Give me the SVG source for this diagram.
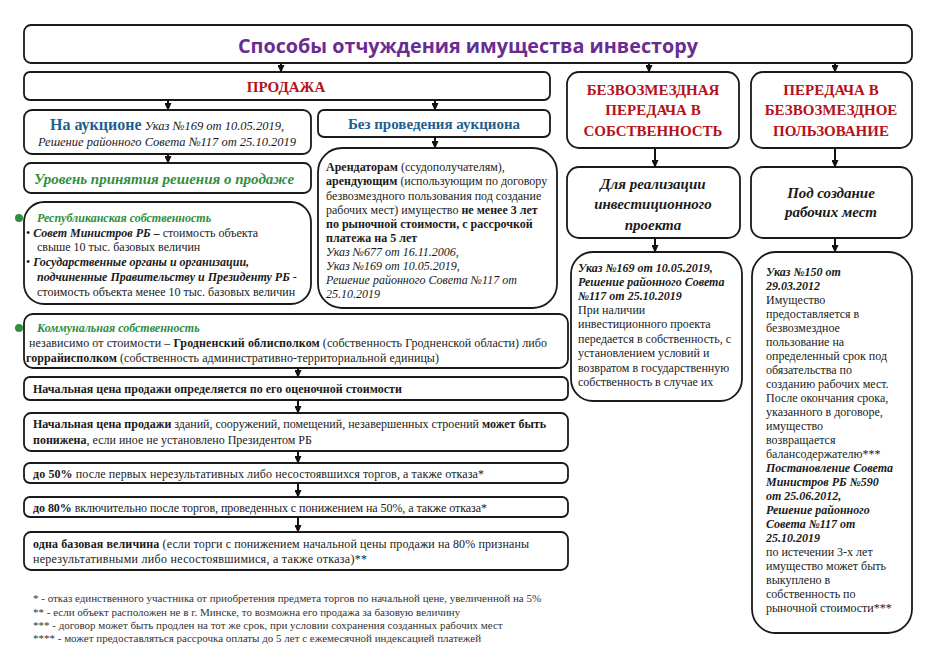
<svg xmlns="http://www.w3.org/2000/svg" width="930" height="658" viewBox="0 0 930 658">
<defs>
<marker id="ah" markerWidth="8" markerHeight="7" refX="7" refY="3.5" orient="auto" markerUnits="userSpaceOnUse">
<path d="M0,0 L8,3.5 L0,7 Z" fill="#111"/>
</marker>
<style>
.box{fill:#fff;stroke:#1a1a1a;stroke-width:1.8}
.t{font-family:"Liberation Serif","Times New Roman",serif;fill:#1a1a1a}
.s12{font-size:12px}
.s11{font-size:11px}
.b{font-weight:bold}
.i{font-style:italic}
.red{fill:#b5121b;font-weight:bold;font-size:15px}
.blue{fill:#1f5f8f;font-weight:bold}
.green{fill:#2f8f3f;font-weight:bold;font-style:italic}
.conn line{stroke:#111;stroke-width:2;marker-end:url(#ah)}
.foot{font-size:11px;fill:#333}
</style>
</defs>
<rect width="930" height="658" fill="#fff"/>

<g id="title">
<rect class="box" x="24" y="25" width="888" height="38" rx="7"/>
<text x="468" y="53" text-anchor="middle" style="font-family:'Open Sans','Noto Sans',sans-serif;font-weight:bold;font-size:20px;fill:#6a2c91" textLength="460" lengthAdjust="spacingAndGlyphs">Способы отчуждения имущества инвестору</text>
</g>

<g id="prodazha">
<rect class="box" x="24" y="72" width="526" height="28" rx="6"/>
<text class="t red" x="286" y="92" text-anchor="middle">ПРОДАЖА</text>
</g>

<g id="bezvozm-sobst">
<rect class="box" x="567" y="72" width="172" height="76" rx="12"/>
<text class="t red" x="653" y="95" text-anchor="middle">БЕЗВОЗМЕЗДНАЯ</text>
<text class="t red" x="653" y="115" text-anchor="middle">ПЕРЕДАЧА В</text>
<text class="t red" x="653" y="136" text-anchor="middle">СОБСТВЕННОСТЬ</text>
</g>

<g id="bezvozm-polz">
<rect class="box" x="751" y="72" width="161" height="76" rx="12"/>
<text class="t red" x="831" y="95" text-anchor="middle">ПЕРЕДАЧА В</text>
<text class="t red" x="831" y="115" text-anchor="middle">БЕЗВОЗМЕЗДНОЕ</text>
<text class="t red" x="831" y="136" text-anchor="middle">ПОЛЬЗОВАНИЕ</text>
</g>

<g id="auction">
<rect class="box" x="24" y="110" width="287" height="44" rx="8"/>
<text class="t" x="167" y="130" text-anchor="middle"><tspan class="blue" style="font-size:16px">На аукционе</tspan><tspan class="i" style="font-size:12.5px"> Указ №169 от 10.05.2019,</tspan></text>
<text class="t i" x="167" y="146" text-anchor="middle" style="font-size:12.5px">Решение районного Совета №117 от 25.10.2019</text>
</g>

<g id="no-auction">
<rect class="box" x="318" y="110" width="232" height="27" rx="6"/>
<text class="t blue" x="434" y="129" text-anchor="middle" style="font-size:15px">Без проведения аукциона</text>
</g>

<g id="level">
<rect class="box" x="24" y="163" width="287" height="30" rx="7"/>
<text class="t green" x="164" y="184" text-anchor="middle" style="font-size:15px">Уровень принятия решения о продаже</text>
</g>

<g id="republic">
<rect class="box" x="24" y="202" width="287" height="102" rx="20"/>
<circle cx="19" cy="218" r="4" fill="#2f8f3f"/>
<text class="t green s12" x="37" y="222">Республиканская собственность</text>
<text class="t s12" x="26" y="237">• <tspan class="b i">Совет Министров РБ –</tspan> стоимость объекта</text>
<text class="t s12" x="37" y="251">свыше 10 тыс. базовых величин</text>
<text class="t s12" x="26" y="266">• <tspan class="b i">Государственные органы и организации,</tspan></text>
<text class="t s12 b i" x="37" y="281">подчиненные  Правительству и Президенту РБ <tspan style="font-weight:normal;font-style:normal">-</tspan></text>
<text class="t s12" x="37" y="296">стоимость объекта менее 10 тыс. базовых величин</text>
</g>

<g id="arendatoram">
<rect class="box" x="318" y="148" width="239" height="160" rx="24"/>
<text class="t s12" x="326" y="171"><tspan class="b">Арендаторам</tspan> (ссудополучателям),</text>
<text class="t s12" x="326" y="185"><tspan class="b">арендующим</tspan> (использующим по договору</text>
<text class="t s12" x="326" y="200">безвозмездного пользования под создание</text>
<text class="t s12" x="326" y="214">рабочих мест) имущество <tspan class="b">не менее 3 лет</tspan></text>
<text class="t s12 b" x="326" y="228">по рыночной стоимости, с рассрочкой</text>
<text class="t s12 b" x="326" y="242">платежа на 5 лет</text>
<text class="t s12 i" x="326" y="256">Указ №677 от 16.11.2006,</text>
<text class="t s12 i" x="326" y="270">Указ №169 от 10.05.2019,</text>
<text class="t s12 i" x="326" y="284">Решение районного Совета №117 от</text>
<text class="t s12 i" x="326" y="298">25.10.2019</text>
</g>

<g id="communal">
<rect class="box" x="24" y="314" width="544" height="54" rx="9"/>
<circle cx="19" cy="328" r="4" fill="#2f8f3f"/>
<text class="t green s12" x="37" y="332">Коммунальная собственность</text>
<text class="t s12" x="29" y="347" textLength="518" lengthAdjust="spacing">независимо от стоимости – <tspan class="b">Гродненский облисполком</tspan> (собственность Гродненской области) либо</text>
<text class="t s12" x="26" y="362" textLength="413" lengthAdjust="spacing"><tspan class="b">горрайисполком</tspan> (собственность административно-территориальной единицы)</text>
</g>

<g id="price-eval">
<rect class="box" x="24" y="377" width="544" height="23" rx="6"/>
<text class="t s12 b" x="33" y="393">Начальная цена продажи определяется по его оценочной стоимости</text>
</g>

<g id="price-lower">
<rect class="box" x="24" y="413" width="544" height="38" rx="7"/>
<text class="t s12" x="33" y="428"><tspan class="b">Начальная цена продажи</tspan> зданий, сооружений, помещений, незавершенных строений <tspan class="b">может быть</tspan></text>
<text class="t s12" x="33" y="444"><tspan class="b">понижена</tspan>, если иное не установлено Президентом РБ</text>
</g>

<g id="down50">
<rect class="box" x="24" y="463" width="544" height="20" rx="6"/>
<text class="t s12" x="33" y="478" textLength="451" lengthAdjust="spacing"><tspan class="b">до 50%</tspan> после первых нерезультативных либо несостоявшихся торгов, а также отказа*</text>
</g>

<g id="down80">
<rect class="box" x="24" y="497" width="544" height="20" rx="6"/>
<text class="t s12" x="33" y="512" textLength="454" lengthAdjust="spacing"><tspan class="b">до 80%</tspan> включительно после торгов, проведенных с понижением на 50%, а также отказа*</text>
</g>

<g id="one-base">
<rect class="box" x="24" y="532" width="544" height="38" rx="7"/>
<text class="t s12" x="33" y="548" textLength="496" lengthAdjust="spacing"><tspan class="b">одна базовая величина</tspan> (если торги с понижением начальной цены продажи на 80% признаны</text>
<text class="t s12" x="33" y="563" textLength="334" lengthAdjust="spacing">нерезультативными либо несостоявшимися, а также отказа)**</text>
</g>

<g id="invest-project">
<rect class="box" x="567" y="167" width="173" height="71" rx="12"/>
<text class="t b i" x="653" y="189" text-anchor="middle" style="font-size:15px">Для реализации</text>
<text class="t b i" x="653" y="209" text-anchor="middle" style="font-size:15px">инвестиционного</text>
<text class="t b i" x="653" y="230" text-anchor="middle" style="font-size:15px">проекта</text>
</g>

<g id="invest-text">
<rect class="box" x="571" y="252" width="171" height="149" rx="22"/>
<text class="t s12 b i" x="578" y="272">Указ №169 от 10.05.2019,</text>
<text class="t s12 b i" x="578" y="286">Решение районного Совета</text>
<text class="t s12 b i" x="578" y="300">№117 от 25.10.2019</text>
<text class="t s12" x="578" y="314">При наличии</text>
<text class="t s12" x="578" y="328">инвестиционного проекта</text>
<text class="t s12" x="578" y="343">передается в собственность, с</text>
<text class="t s12" x="578" y="357">установлением условий и</text>
<text class="t s12" x="578" y="372">возвратом в государственную</text>
<text class="t s12" x="578" y="386">собственность в случае их</text>
</g>

<g id="jobs">
<rect class="box" x="751" y="167" width="161" height="71" rx="12"/>
<text class="t b i" x="831" y="198" text-anchor="middle" style="font-size:15px">Под создание</text>
<text class="t b i" x="831" y="217" text-anchor="middle" style="font-size:15px">рабочих  мест</text>
</g>

<g id="jobs-text">
<rect class="box" x="752" y="252" width="160" height="381" rx="24"/>
<text class="t s12 b i" x="766" y="276">Указ №150 от</text>
<text class="t s12 b i" x="766" y="290">29.03.2012</text>
<text class="t s12" x="766" y="304">Имущество</text>
<text class="t s12" x="766" y="318">предоставляется в</text>
<text class="t s12" x="766" y="332">безвозмездное</text>
<text class="t s12" x="766" y="346">пользование на</text>
<text class="t s12" x="766" y="360">определенный срок под</text>
<text class="t s12" x="766" y="374">обязательства по</text>
<text class="t s12" x="766" y="388">созданию рабочих мест.</text>
<text class="t s12" x="766" y="402">После окончания срока,</text>
<text class="t s12" x="766" y="416">указанного в договоре,</text>
<text class="t s12" x="766" y="430">имущество</text>
<text class="t s12" x="766" y="444">возвращается</text>
<text class="t s12" x="766" y="458">балансодержателю***</text>
<text class="t s12 b i" x="766" y="472">Постановление Совета</text>
<text class="t s12 b i" x="766" y="486">Министров РБ №590</text>
<text class="t s12 b i" x="766" y="500">от 25.06.2012,</text>
<text class="t s12 b i" x="766" y="514">Решение районного</text>
<text class="t s12 b i" x="766" y="528">Совета №117 от</text>
<text class="t s12 b i" x="766" y="542">25.10.2019</text>
<text class="t s12" x="766" y="556">по истечении 3-х лет</text>
<text class="t s12" x="766" y="570">имущество может быть</text>
<text class="t s12" x="766" y="584">выкуплено в</text>
<text class="t s12" x="766" y="598">собственность по</text>
<text class="t s12" x="766" y="612">рыночной стоимости***</text>
</g>

<g id="footnotes">
<text class="t foot" x="33" y="602">* - отказ единственного участника от приобретения предмета торгов по начальной цене, увеличенной на 5%</text>
<text class="t foot" x="33" y="616">** - если объект расположен не в г. Минске, то возможна его продажа за базовую величину</text>
<text class="t foot" x="33" y="629">*** - договор может быть продлен на тот же срок, при условии сохранения созданных рабочих мест</text>
<text class="t foot" x="33" y="642">**** - может предоставляться рассрочка оплаты до 5 лет с ежемесячной индексацией платежей</text>
</g>

<g id="connectors" class="conn">
<line x1="281" y1="63" x2="281" y2="72"/>
<line x1="649" y1="63" x2="649" y2="72"/>
<line x1="835" y1="63" x2="835" y2="72"/>
<line x1="168" y1="100" x2="168" y2="110"/>
<line x1="435" y1="100" x2="435" y2="110"/>
<line x1="168" y1="154" x2="168" y2="163"/>
<line x1="435" y1="137" x2="435" y2="148"/>
<line x1="655" y1="148" x2="655" y2="167"/>
<line x1="835" y1="148" x2="835" y2="167"/>
<line x1="655" y1="238" x2="655" y2="252"/>
<line x1="835" y1="238" x2="835" y2="252"/>
<line x1="298" y1="368" x2="298" y2="377"/>
<line x1="298" y1="400" x2="298" y2="413"/>
<line x1="298" y1="451" x2="298" y2="463"/>
<line x1="298" y1="483" x2="298" y2="497"/>
<line x1="298" y1="517" x2="298" y2="532"/>
</g>
</svg>
